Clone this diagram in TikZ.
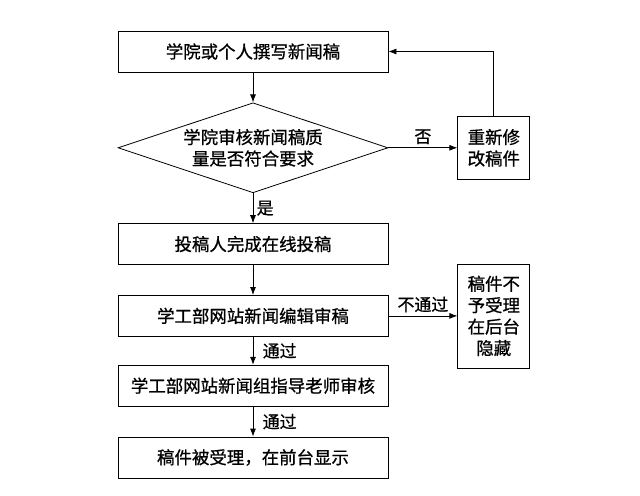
\documentclass[tikz,border=0pt]{standalone}
\usepackage{fontspec}
\usetikzlibrary{arrows.meta,positioning,shapes.geometric}
\newfontfamily\cjk[FakeBold=0.8]{Noto Sans CJK SC}

\begin{document}
\begin{tikzpicture}[x=1bp,y=1bp,node distance=30bp and 69bp,
  box/.style={draw,line width=0.8bp,align=center,minimum width=270bp,minimum height=41bp,font=\cjk\fontsize{17.5}{21.5}\selectfont},
  side/.style={draw,line width=0.8bp,align=center,minimum width=72bp,inner sep=2bp,font=\cjk\fontsize{17.5}{21.5}\selectfont},
  check/.style={diamond,draw,line width=0.8bp,align=center,minimum width=270bp,minimum height=90bp,aspect=3,inner sep=0pt,font=\cjk\fontsize{17.5}{21.5}\selectfont},
  lbl/.style={font=\cjk\fontsize{17}{20}\selectfont},
  >={Latex[length=8bp,width=6bp]}]
\useasboundingbox (0,0) rectangle (640,-496);
\node[box] (write) at (253,-51.5) {学院或个人撰写新闻稿};
\node[check,below=of write] (check) {学院审核新闻稿质\\量是否符合要求};
\node[side,right=of check,minimum height=63bp] (fix) {重新修\\改稿件};
\node[box,below=of check] (submit) {投稿人完成在线投稿};
\node[box,below=of submit] (edit) {学工部网站新闻编辑审稿};
\node[side,right=of edit,minimum height=104bp] (hide) {稿件不\\予受理\\在后台\\隐藏};
\node[box,below=28bp of edit] (tutor) {学工部网站新闻组指导老师审核};
\node[box,below=of tutor] (show) {稿件被受理，在前台显示};
\draw[->,line width=0.8bp] (write) -- (check);
\draw[->,line width=0.8bp] (check) -- node[lbl,above]{否} (fix);
\draw[->,line width=0.8bp] (fix) |- (write);
\draw[->,line width=0.8bp] (check) -- node[lbl,right]{是} (submit);
\draw[->,line width=0.8bp] (submit) -- (edit);
\draw[->,line width=0.8bp] (edit) -- node[lbl,above]{不通过} (hide);
\draw[->,line width=0.8bp] (edit) -- node[lbl,right,xshift=6bp]{通过} (tutor);
\draw[->,line width=0.8bp] (tutor) -- node[lbl,right,xshift=6bp]{通过} (show);
\end{tikzpicture}
\end{document}
